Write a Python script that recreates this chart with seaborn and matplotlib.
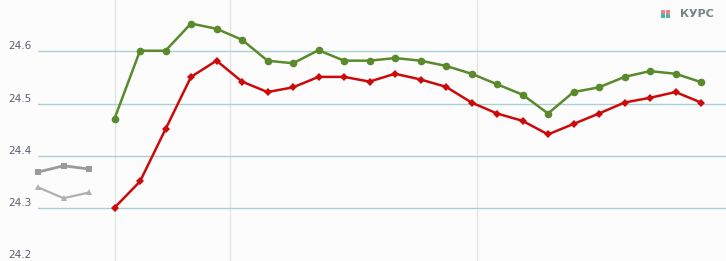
import matplotlib
matplotlib.use("Agg")
import matplotlib.pyplot as plt
import matplotlib.patches as mpatches
import seaborn as sns
import pandas as pd
import numpy as np

# ---- data ----
green_idx = list(range(3, 27))
green_vals = [24.471, 24.601, 24.601, 24.653, 24.643, 24.622, 24.582, 24.577,
              24.602, 24.582, 24.582, 24.587, 24.582, 24.572, 24.557, 24.537,
              24.517, 24.481, 24.522, 24.531, 24.551, 24.562, 24.557, 24.541]
red_idx = list(range(3, 27))
red_vals = [24.301, 24.351, 24.451, 24.551, 24.582, 24.542, 24.522, 24.531,
            24.551, 24.551, 24.542, 24.557, 24.546, 24.532, 24.502, 24.481,
            24.467, 24.441, 24.461, 24.481, 24.502, 24.511, 24.522, 24.502]
gray_sq_idx = [0, 1, 2]
gray_sq_vals = [24.369, 24.381, 24.375]
gray_tri_idx = [0, 1, 2]
gray_tri_vals = [24.340, 24.319, 24.330]

y_ticks = [24.2, 24.3, 24.4, 24.5, 24.6]
y_tick_labels = ["24.2", "24.3", "24.4", "24.5", "24.6"]
h_grid = [24.3, 24.4, 24.5, 24.6]
v_grid = [3, 7.52, 17.23]
logo_text = "КУРС"

sns.set_style("white")
plt.rcParams['font.family'] = ['DejaVu Sans']

bg = "#fcfcfc"
fig = plt.figure(figsize=(7.26, 2.61), dpi=100, facecolor=bg)
ax = fig.add_axes([38 / 726, 0, (726 - 38) / 726, 1.0])
ax.set_facecolor(bg)

for x in v_grid:
    ax.axvline(x, color="#e2e4e6", lw=1.0, zorder=0)
for y in h_grid:
    ax.axhline(y, color="#a9d0d3", lw=1.0, zorder=0.5)

n_before = len(ax.lines)
sns.lineplot(x=gray_sq_idx, y=gray_sq_vals, ax=ax, color="#9a9a9a", lw=2,
             marker="s", markersize=5, markeredgewidth=0, zorder=2)
sns.lineplot(x=gray_tri_idx, y=gray_tri_vals, ax=ax, color="#b0b0b0", lw=1.6,
             marker="^", markersize=5, markeredgewidth=0, zorder=2)
sns.lineplot(x=green_idx, y=green_vals, ax=ax, color="#5a8a2c", lw=1.8,
             marker="o", markersize=5.5, markeredgewidth=0, zorder=3)
sns.lineplot(x=red_idx, y=red_vals, ax=ax, color="#cc0a0a", lw=1.8,
             marker="D", markersize=3.6, markeredgewidth=0, zorder=4)
for ln in ax.lines[n_before:]:
    ln.set_clip_on(False)

ax.set_xlim(0, 26.98)
ax.set_ylim(24.199, 24.698)
ax.set_xticks([])
ax.set_yticks(y_ticks)
ax.set_yticklabels(y_tick_labels)
ax.tick_params(axis="y", length=0, pad=4.5, labelsize=7.6, labelcolor="#5a5f6b")
for lbl in ax.get_yticklabels():
    lbl.set_verticalalignment("bottom")
for s in ax.spines.values():
    s.set_visible(False)
ax.set_xlabel("")
ax.set_ylabel("")

# logo
W, H = 726, 261
for i in range(4):
    x0 = 661 + i * 2.4
    split = 13.0 + i * 0.7
    fig.add_artist(mpatches.Rectangle((x0 / W, 1 - split / H), 2.0 / W, (split - 9.5) / H,
                                      transform=fig.transFigure, color="#e98585", lw=0))
    fig.add_artist(mpatches.Rectangle((x0 / W, 1 - 17.5 / H), 2.0 / W, (17.5 - split) / H,
                                      transform=fig.transFigure, color="#4fb3ad", lw=0))
fig.text(680 / W, 1 - 13.8 / H, logo_text, fontsize=8, fontweight="bold",
         color="#728686", va="center", ha="left")

fig.savefig("out.png", dpi=100, facecolor=bg)
